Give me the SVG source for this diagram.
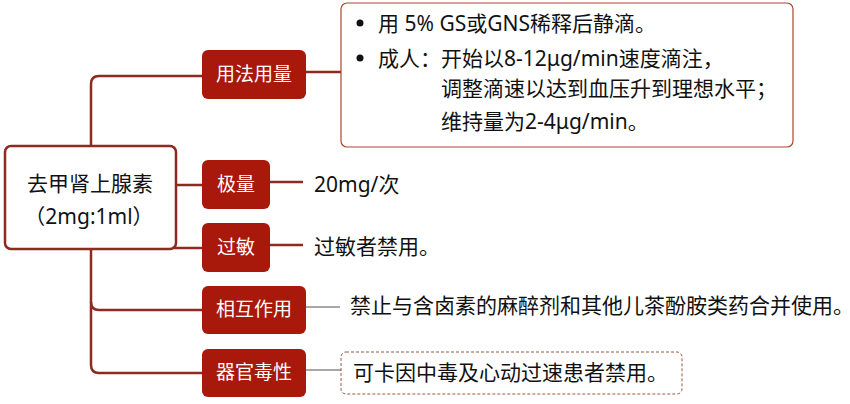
<svg xmlns="http://www.w3.org/2000/svg" width="850" height="404" viewBox="0 0 850 404">
<style>
  .txt { font-family: "Noto Sans", "Noto Sans CJK SC", sans-serif; font-size: 21px; fill: #111; }
  .lbl { font-family: "Noto Sans", "Noto Sans CJK SC", sans-serif; font-size: 19px; fill: #ffffff; text-anchor: middle; }
  .box { fill: #a8180b; }
  .conn { fill: none; stroke: #8e2a1f; stroke-width: 2.5; }
  .thin { fill: none; stroke: #8a8a8a; stroke-width: 1.3; }
</style>
<rect width="850" height="404" fill="#ffffff"/>
<g id="connectors">
  <path class="conn" d="M91,145 V84 Q91,76 99,76 H202"/>
  <path class="conn" d="M91,250 V302 Q91,310 99,310 H202"/>
  <path class="conn" d="M91,302 V365 Q91,373 99,373 H202"/>
  <path class="conn" d="M176,185 H202"/>
  <path class="conn" d="M174,248 H202"/>
  <path class="conn" d="M306,72 H341"/>
  <path class="conn" d="M270,182 H303"/>
  <path class="conn" d="M270,245 H303"/>
  <path class="thin" d="M306,307 H340"/>
  <path class="thin" d="M306,370 H341"/>
</g>
<g id="root">
  <rect x="5" y="146" width="171" height="103" rx="6" fill="#ffffff" stroke="#8e2a1f" stroke-width="2.5"/>
  <text class="txt" x="90" y="191" text-anchor="middle">去甲肾上腺素</text>
  <text class="txt" x="89" y="224" text-anchor="middle">（2mg:1ml）</text>
</g>
<g id="usage">
  <rect class="box" x="202" y="50" width="104" height="49" rx="6"/>
  <text class="lbl" x="254" y="81">用法用量</text>
</g>
<g id="usage-detail">
  <rect x="341" y="3" width="452" height="144" rx="6" fill="#ffffff" stroke="#b0452a" stroke-width="1.2"/>
  <circle cx="360" cy="23" r="3.5" fill="#111"/>
  <circle cx="360" cy="58" r="3.5" fill="#111"/>
  <text class="txt" x="378" y="30.5">用 5% GS或GNS稀释后静滴。</text>
  <text class="txt" x="378" y="65.5">成人：</text>
  <text class="txt" x="441" y="65.5">开始以8-12μg/min速度滴注，</text>
  <text class="txt" x="441" y="95.5">调整滴速以达到血压升到理想水平；</text>
  <text class="txt" x="441" y="129">维持量为2-4μg/min。</text>
</g>
<g id="maxdose">
  <rect class="box" x="202" y="160" width="68" height="49" rx="6"/>
  <text class="lbl" x="236" y="191">极量</text>
  <text class="txt" x="314" y="191.5">20mg/次</text>
</g>
<g id="allergy">
  <rect class="box" x="202" y="223" width="68" height="49" rx="6"/>
  <text class="lbl" x="236" y="254">过敏</text>
  <text class="txt" x="314" y="253.5">过敏者禁用。</text>
</g>
<g id="interaction">
  <rect class="box" x="202" y="286" width="104" height="48" rx="6"/>
  <text class="lbl" x="254" y="316">相互作用</text>
  <text class="txt" x="350" y="312.5" font-size="20.6">禁止与含卤素的麻醉剂和其他儿茶酚胺类药合并使用。</text>
</g>
<g id="toxicity">
  <rect class="box" x="202" y="349" width="104" height="48" rx="6"/>
  <text class="lbl" x="254" y="379">器官毒性</text>
  <rect x="341" y="352" width="341" height="42" rx="5" fill="#ffffff" stroke="#9a5a40" stroke-width="1" stroke-dasharray="3,2"/>
  <text class="txt" x="353" y="379.5">可卡因中毒及心动过速患者禁用。</text>
</g>
</svg>
